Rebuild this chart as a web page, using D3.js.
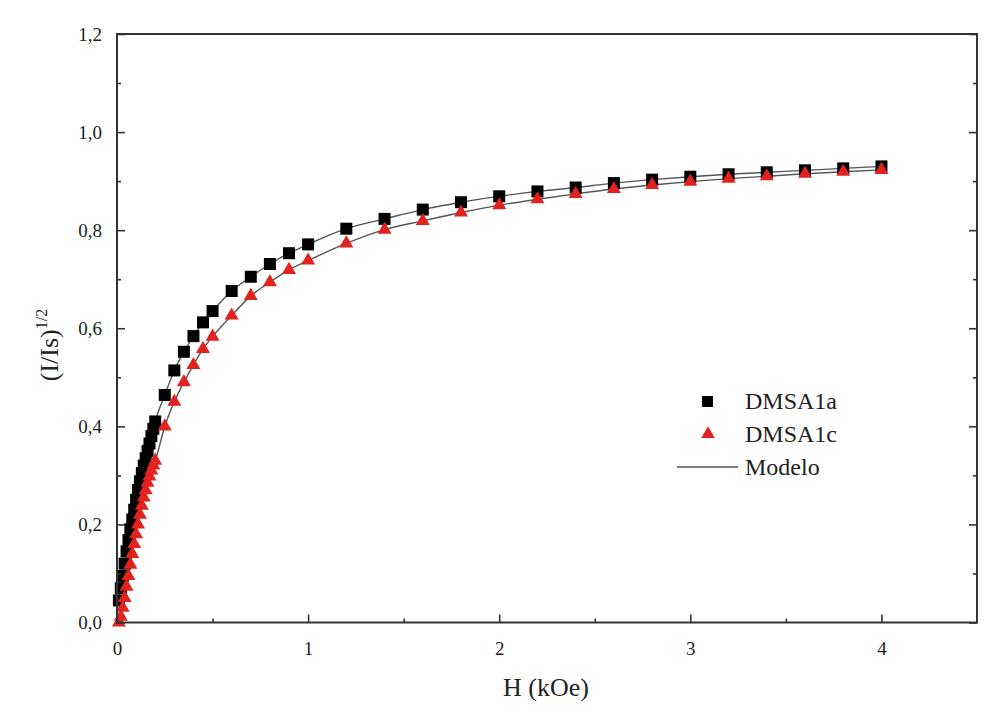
<!DOCTYPE html>
<html>
<head>
<meta charset="utf-8">
<script src="https://cdn.jsdelivr.net/npm/d3@7"></script>
<style>
  body { margin: 0; background: #fff; }
</style>
</head>
<body>
<div id="chart"></div>
<script>
// H (kOe) values
const fieldA = [0.01, 0.02, 0.03, 0.04, 0.05, 0.06, 0.07, 0.08, 0.09, 0.10,
  0.11, 0.12, 0.13, 0.14, 0.15, 0.16, 0.17, 0.18, 0.19, 0.20,
  0.25, 0.3, 0.35, 0.4, 0.45, 0.5, 0.6, 0.7, 0.8, 0.9, 1.0,
  1.2, 1.4, 1.6, 1.8, 2.0, 2.2, 2.4, 2.6, 2.8, 3.0, 3.2, 3.4, 3.6, 3.8, 4.0];
const dmsa1a = [0.045, 0.07, 0.095, 0.12, 0.145, 0.168, 0.19, 0.21, 0.23, 0.25,
  0.27, 0.288, 0.305, 0.32, 0.335, 0.35, 0.365, 0.38, 0.395, 0.41,
  0.464, 0.514, 0.552, 0.584, 0.612, 0.635, 0.676, 0.705, 0.731, 0.753, 0.771,
  0.803, 0.823, 0.842, 0.857, 0.869, 0.879, 0.887, 0.896, 0.903, 0.909, 0.914, 0.918, 0.922, 0.926, 0.930];

const fieldC = fieldA;
const dmsa1c = [0.0, 0.012, 0.03, 0.05, 0.073, 0.095, 0.118, 0.14, 0.16, 0.18,
  0.20, 0.22, 0.238, 0.255, 0.27, 0.285, 0.298, 0.31, 0.32, 0.33,
  0.40, 0.450, 0.490, 0.525, 0.558, 0.583, 0.626, 0.666, 0.694, 0.719, 0.738,
  0.773, 0.801, 0.819, 0.836, 0.851, 0.863, 0.874, 0.884, 0.892, 0.899, 0.905, 0.910, 0.915, 0.919, 0.923];

const yTicks = [0, 0.2, 0.4, 0.6, 0.8, 1.0, 1.2];
const yMinor = [0.1, 0.3, 0.5, 0.7, 0.9, 1.1];
const xTicks = [0, 1, 2, 3, 4];
const xMinor = [0.5, 1.5, 2.5, 3.5];

const W = 987, H = 714;
const margin = { top: 34, right: 10, bottom: 91.5, left: 117 };
const serif = "'Liberation Serif', 'DejaVu Serif', 'Times New Roman', serif";

const svg = d3.select('#chart').append('svg')
  .attr('width', W).attr('height', H);

const x = d3.scaleLinear().domain([0, 4.5]).range([margin.left, W - margin.right]);
const y = d3.scaleLinear().domain([0, 1.2]).range([H - margin.bottom, margin.top]);

const seriesA = fieldA.map((h, i) => ({ h, v: dmsa1a[i] }));
const seriesC = fieldC.map((h, i) => ({ h, v: dmsa1c[i] }));

// model lines
const line = d3.line().x(d => x(d.h)).y(d => y(d.v)).curve(d3.curveMonotoneX);
[seriesA, seriesC].forEach(s => {
  svg.append('path')
    .datum(s)
    .attr('d', line)
    .attr('fill', 'none')
    .attr('stroke', '#555')
    .attr('stroke-width', 1.4);
});

// squares
const sq = 12;
svg.append('g').selectAll('rect')
  .data(seriesA)
  .enter().append('rect')
  .attr('x', d => x(d.h) - sq / 2)
  .attr('y', d => y(d.v) - sq / 2)
  .attr('width', sq).attr('height', sq)
  .attr('fill', '#000');

// triangles
const tri = d3.symbol().type(d3.symbolTriangle).size(85);
svg.append('g').selectAll('path')
  .data(seriesC)
  .enter().append('path')
  .attr('d', tri)
  .attr('transform', d => `translate(${x(d.h)},${y(d.v)})`)
  .attr('fill', '#e0231f');

// axes
const axisColor = '#333';
function styleAxis(g) {
  g.select('.domain').remove();
  g.attr('font-family', serif);
  g.selectAll('line').attr('stroke', axisColor).attr('stroke-width', 1.6);
  g.selectAll('text').style('font-size', '19px').style('font-family', serif).attr('fill', '#222');
}

const xb = H - margin.bottom;
svg.append('g')
  .attr('transform', `translate(0,${xb})`)
  .call(d3.axisBottom(x).tickValues(xTicks).tickSizeInner(-8).tickSizeOuter(0)
    .tickPadding(19).tickFormat(d3.format('d')))
  .call(styleAxis);
svg.append('g')
  .attr('transform', `translate(0,${xb})`)
  .call(d3.axisBottom(x).tickValues(xMinor).tickSizeInner(-4).tickSizeOuter(0).tickFormat(''))
  .call(styleAxis);

const fmtY = d => d3.format('.1f')(d).replace('.', ',');
svg.append('g')
  .attr('transform', `translate(${margin.left},0)`)
  .call(d3.axisLeft(y).tickValues(yTicks).tickSizeInner(-8).tickSizeOuter(0)
    .tickPadding(15).tickFormat(fmtY))
  .call(styleAxis);
svg.append('g')
  .attr('transform', `translate(${margin.left},0)`)
  .call(d3.axisLeft(y).tickValues(yMinor).tickSizeInner(-4).tickSizeOuter(0).tickFormat(''))
  .call(styleAxis);

svg.append('g')
  .attr('transform', `translate(${W - margin.right},0)`)
  .call(d3.axisRight(y).tickValues(yTicks).tickSizeInner(-8).tickSizeOuter(0).tickFormat(''))
  .call(styleAxis);
svg.append('g')
  .attr('transform', `translate(${W - margin.right},0)`)
  .call(d3.axisRight(y).tickValues(yMinor).tickSizeInner(-4).tickSizeOuter(0).tickFormat(''))
  .call(styleAxis);

// frame
svg.append('rect')
  .attr('x', margin.left).attr('y', margin.top)
  .attr('width', W - margin.left - margin.right)
  .attr('height', H - margin.bottom - margin.top)
  .attr('fill', 'none')
  .attr('stroke', axisColor)
  .attr('stroke-width', 2);

// axis titles
svg.append('text')
  .attr('x', 546)
  .attr('y', 696)
  .attr('text-anchor', 'middle')
  .style('font-family', serif)
  .style('font-size', '26px')
  .attr('fill', '#222')
  .text('H (kOe)');

const yt = svg.append('text')
  .attr('transform', `translate(58,345) rotate(-90)`)
  .attr('text-anchor', 'middle')
  .style('font-family', serif)
  .style('font-size', '26px')
  .attr('fill', '#222');
yt.append('tspan').text('(I/Is)');
yt.append('tspan').attr('dy', -11).style('font-size', '16px').text('1/2');

// legend
const lg = svg.append('g');
lg.append('rect').attr('x', 702).attr('y', 396).attr('width', 11).attr('height', 11).attr('fill', '#000');
lg.append('path').attr('d', d3.symbol().type(d3.symbolTriangle).size(80))
  .attr('transform', 'translate(708,434)').attr('fill', '#e0231f');
lg.append('line').attr('x1', 677).attr('x2', 738).attr('y1', 467).attr('y2', 467)
  .attr('stroke', '#555').attr('stroke-width', 1.4);
[['DMSA1a', 401], ['DMSA1c', 434], ['Modelo', 467]].forEach(([t, yy]) => {
  lg.append('text').attr('x', 745).attr('y', yy).attr('dy', '0.35em')
    .style('font-family', serif)
    .style('font-size', '24px')
    .attr('fill', '#222')
    .text(t);
});
</script>
</body>
</html>
